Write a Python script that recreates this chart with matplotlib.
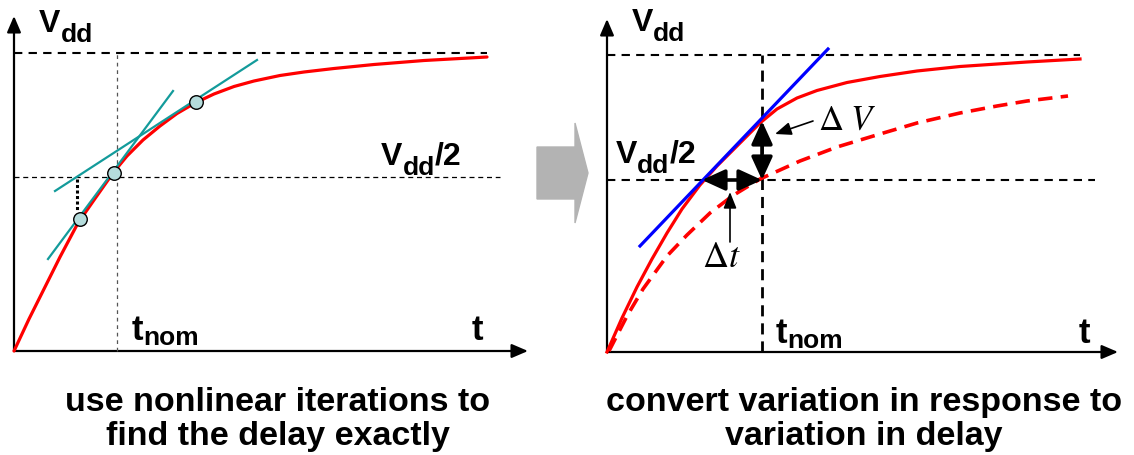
import matplotlib
matplotlib.use("Agg")
import matplotlib.pyplot as plt
import matplotlib.patches as mpatches

plt.rcParams['font.family'] = ['Liberation Sans', 'DejaVu Sans']

# left panel: nominal response (t, v in arbitrary units)
left_t = [0.0, 0.15, 0.30, 0.46, 0.64, 0.80, 0.99, 1.13, 1.29, 1.46, 1.63, 1.81, 2.00,
          2.20, 2.40, 2.66, 2.90, 3.20, 3.60, 4.10, 4.73]
left_v = [0.0, 0.32, 0.62, 0.94, 1.28, 1.51, 1.78, 1.95, 2.11, 2.25, 2.375, 2.48, 2.57,
          2.645, 2.70, 2.755, 2.79, 2.825, 2.865, 2.905, 2.94]
iter_t = [0.66, 1.00, 1.82]
iter_v = [1.32, 1.78, 2.49]
tangent1_t = [0.34, 1.59]
tangent1_v = [0.92, 2.60]
tangent2_t = [0.41, 2.43]
tangent2_v = [1.60, 2.91]
step_t = [0.63, 0.63]
step_v = [1.72, 1.39]
left_vdd, left_half, left_tnom = 2.98, 1.74, 1.03

# right panel: nominal and perturbed responses
nom_t = [0.0, 0.15, 0.30, 0.45, 0.60, 0.75, 0.93, 1.10, 1.30, 1.53, 1.70, 1.90, 2.10,
         2.40, 2.73, 3.10, 3.53, 4.20, 4.73]
nom_v = [0.0, 0.34, 0.65, 0.93, 1.19, 1.43, 1.67, 1.86, 2.06, 2.29, 2.43, 2.54, 2.615,
         2.695, 2.755, 2.81, 2.855, 2.90, 2.93]
pert_t = [0.02, 0.20, 0.36, 0.60, 0.80, 1.03, 1.26, 1.53, 1.93, 2.30, 2.73, 3.10, 3.53,
          3.90, 4.20, 4.61]
pert_v = [0.01, 0.36, 0.63, 0.96, 1.17, 1.39, 1.565, 1.73, 1.91, 2.05, 2.18, 2.29, 2.39,
          2.46, 2.51, 2.56]
lin_t = [0.33, 2.21]
lin_v = [1.06, 3.03]
right_vdd, right_half, right_tnom = 2.97, 1.72, 1.55
dv_top, dt_left = 2.31, 0.95

captions_left = ["use nonlinear iterations to", "find the delay exactly"]
captions_right = ["convert variation in response to", "variation in delay"]

W, H = 1134, 456
fig = plt.figure(figsize=(W / 100, H / 100), dpi=100)


def panel(px0, py0, xl, xr, yt, yb):
    # axes whose data units are 100 px, origin at pixel (px0, py0)
    ax = fig.add_axes([xl / W, 1 - yb / H, (xr - xl) / W, (yb - yt) / H])
    ax.set_xlim((xl - px0) / 100, (xr - px0) / 100)
    ax.set_ylim((py0 - yb) / 100, (py0 - yt) / 100)
    ax.axis('off')
    return ax


def axis_arrows(ax, xend, yend):
    kw = dict(arrowstyle='-|>,head_length=0.7,head_width=0.3', color='black',
              lw=1.6, mutation_scale=14, shrinkA=0, shrinkB=0)
    ax.add_patch(mpatches.FancyArrowPatch((0, 0), (xend, 0), **kw))
    ax.add_patch(mpatches.FancyArrowPatch((0, 0), (0, yend), **kw))


def sublabel(ax, x, y, main, sub=None, tail=None, size=23, subsize=19, drop=6):
    t1 = ax.text(x, y, main, fontsize=size, fontweight='bold', va='baseline')
    if sub is None:
        return
    t2 = ax.annotate(sub, xy=(1, 0), xycoords=t1, xytext=(0, -drop),
                     textcoords='offset points', fontsize=subsize, fontweight='bold',
                     va='bottom')
    if tail:
        ax.annotate(tail, xy=(1, 0), xycoords=t2, xytext=(0, drop),
                    textcoords='offset points', fontsize=size, fontweight='bold',
                    va='bottom')


# ---- left panel
ax1 = panel(14, 352, 0, 540, 0, 372)
ax1.plot([0, 4.73], [left_vdd, left_vdd], color='black', lw=1.5, ls=(0, (4, 3)))
ax1.plot([0, 4.86], [left_half, left_half], color='black', lw=0.9, ls=(0, (4, 3)))
ax1.plot([left_tnom, left_tnom], [0, left_vdd], color='#555555', lw=0.9, ls=(0, (3, 3)))
ax1.plot(left_t, left_v, color='#ff0000', lw=2.3, solid_capstyle='round', zorder=3)
ax1.plot(tangent1_t, tangent1_v, color='#139b9b', lw=1.6, zorder=4)
ax1.plot(tangent2_t, tangent2_v, color='#139b9b', lw=1.6, zorder=4)
ax1.plot(step_t, step_v, color='black', lw=2.2, ls=(0, (1, 0.8)), zorder=4)
ax1.scatter(iter_t, iter_v, s=95, color='#b5dcdc', edgecolor='black', lw=1.0, zorder=5)
axis_arrows(ax1, 5.14, 3.35)
sublabel(ax1, 0.25, 3.20, 'V', 'dd')
sublabel(ax1, 3.67, 1.87, 'V', 'dd', '/2')
sublabel(ax1, 1.18, 0.12, 't', 'nom', size=25, drop=2.5)
sublabel(ax1, 4.58, 0.12, 't', size=25)

# ---- middle arrow
fig.patches.append(mpatches.FancyArrow(5.37, 2.82, 0.51, 0, width=0.52, head_width=1.0,
                                       head_length=0.13, length_includes_head=True,
                                       color='#b3b3b3', transform=fig.dpi_scale_trans))

# ---- right panel
ax2 = panel(607, 353, 595, 1134, 0, 372)
ax2.plot([0, 4.73], [right_vdd, right_vdd], color='black', lw=1.5, ls=(0, (4, 3)))
ax2.plot([0, 4.88], [right_half, right_half], color='black', lw=1.5, ls=(0, (4, 3)))
ax2.plot([right_tnom, right_tnom], [0, right_vdd], color='black', lw=2.0, ls=(0, (4, 2.5)))
ax2.plot(nom_t, nom_v, color='#ff0000', lw=2.3, zorder=3)
ax2.plot(pert_t, pert_v, color='#ff0000', lw=2.6, ls=(0, (4, 2.3)), zorder=3)
ax2.plot(lin_t, lin_v, color='#0000ff', lw=2.3, zorder=4)
axis_arrows(ax2, 5.11, 3.33)
dbl = dict(arrowstyle='<|-|>,head_length=0.7,head_width=0.32', color='black', lw=2.6,
           mutation_scale=20, shrinkA=0, shrinkB=0, zorder=6)
ax2.add_patch(mpatches.FancyArrowPatch((right_tnom, dv_top), (right_tnom, right_half), **dbl))
ax2.add_patch(mpatches.FancyArrowPatch((dt_left, right_half), (right_tnom, right_half), **dbl))
thin = dict(arrowstyle='-|>,head_length=0.7,head_width=0.28', color='black',
            lw=1.2, mutation_scale=14, shrinkA=0, shrinkB=0)
ax2.annotate('', xy=(1.68, 2.18), xytext=(2.06, 2.31), arrowprops=thin)
ax2.annotate('', xy=(1.23, 1.60), xytext=(1.23, 1.10), arrowprops=thin)
ax2.text(2.11, 2.23, r'$\Delta\;V$', fontsize=25, math_fontfamily='stix', va='baseline')
ax2.text(0.95, 0.86, r'$\Delta t$', fontsize=26, math_fontfamily='stix', va='baseline')
sublabel(ax2, 0.25, 3.22, 'V', 'dd')
sublabel(ax2, 0.09, 1.90, 'V', 'dd', '/2')
sublabel(ax2, 1.69, 0.10, 't', 'nom', size=25, drop=2.5)
sublabel(ax2, 4.72, 0.10, 't', size=25)

# ---- captions
cap = dict(fontsize=24.5, fontweight='bold', ha='center', va='baseline')
for i, y in enumerate([411, 445]):
    fig.text(278 / W, 1 - y / H, captions_left[i], **cap)
    fig.text(864 / W, 1 - y / H, captions_right[i], **cap)

fig.savefig('out.png', dpi=100)
